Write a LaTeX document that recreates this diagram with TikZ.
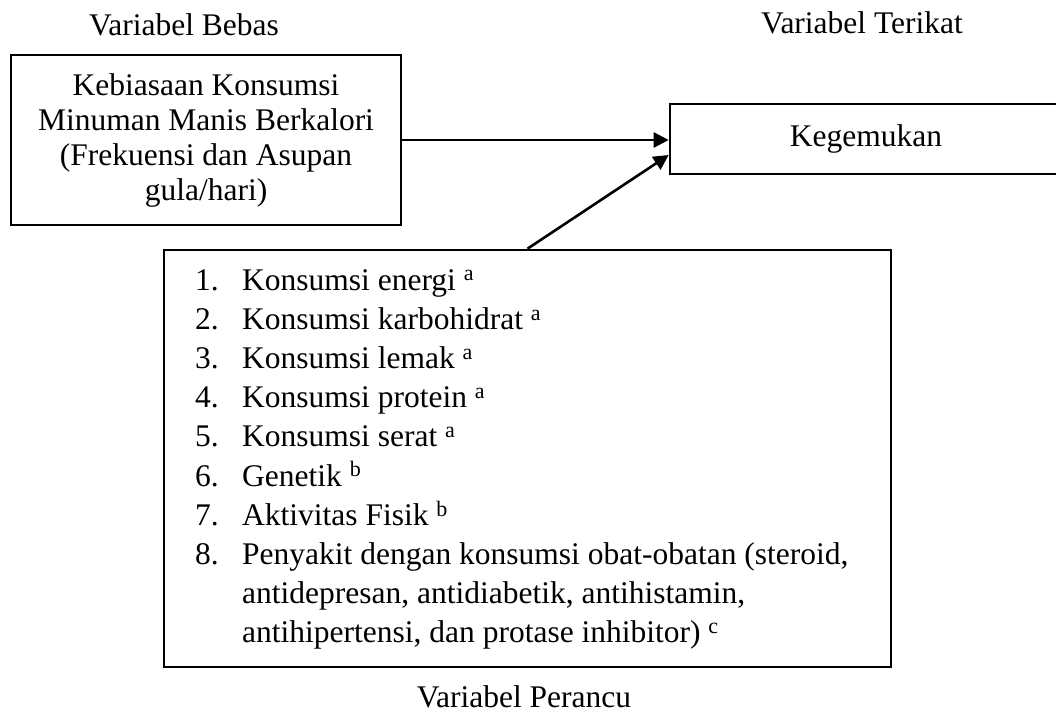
\documentclass[tikz,border=0pt]{standalone}
\usepackage{fontspec}
\setmainfont{Liberation Serif}
\usetikzlibrary{arrows.meta,calc}
\begin{document}
\begin{tikzpicture}[x=1pt,y=-1pt,
  box/.style={draw,line width=2.6pt,inner sep=0pt},
  txt/.style={font=\fontsize{31.5}{35}\selectfont,inner sep=0pt},
  item/.style={txt,anchor=base west},
  arr/.style={line width=2.6pt,-{Triangle[length=15pt,width=15pt]}}]
\useasboundingbox (0,0) rectangle (1056,726);
% titles
\node[txt,anchor=base] (tbebas) at (184,35) {Variabel Bebas};
\node[txt,anchor=base] (tterikat) at (862,33) {Variabel Terikat};
\node[txt,anchor=base] (tperancu) at (524,707) {Variabel Perancu};
% boxes
\node[box,txt,align=center,minimum width=390pt,minimum height=170pt] (bebas) at (206,140)
  {Kebiasaan Konsumsi\\Minuman Manis Berkalori\\(Frekuensi dan Asupan\\gula/hari)};
\node[box,txt,minimum width=392pt,minimum height=70pt] (kegemukan) at (866,139) {Kegemukan};
\node[box,minimum width=727pt,minimum height=417pt] (perancu) at (527.5,458.5) {};
% list
\foreach \n/\t [count=\k from 0] in {1/{Konsumsi energi \textsuperscript{a}},
  2/{Konsumsi karbohidrat \textsuperscript{a}},
  3/{Konsumsi lemak \textsuperscript{a}},
  4/{Konsumsi protein \textsuperscript{a}},
  5/{Konsumsi serat \textsuperscript{a}},
  6/{Genetik \textsuperscript{b}},
  7/{Aktivitas Fisik \textsuperscript{b}},
  8/{Penyakit dengan konsumsi obat-obatan (steroid,}}{
  \node[item] (num\n) at (195,{290+39.2*\k}) {\n.};
  \node[item] (it\n) at (242,{290+39.2*\k}) {\t};
}
\node[item] (it8b) at (242,{290+39.2*8}) {antidepresan, antidiabetik, antihistamin,};
\node[item] (it8c) at (242,{290+39.2*9}) {antihipertensi, dan protase inhibitor) \textsuperscript{c}};
% connectors
\draw[arr] (bebas.east) -- (bebas.east -| kegemukan.west);
\draw[arr] (perancu.north) -- ($(kegemukan.west)+(0,16)$);
\end{tikzpicture}
\end{document}
